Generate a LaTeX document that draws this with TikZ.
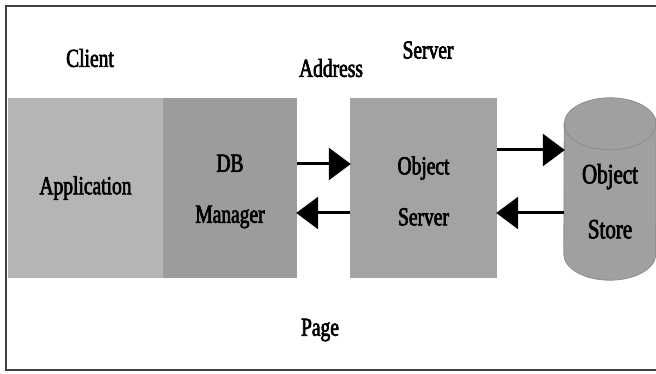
\documentclass[tikz,border=0pt]{standalone}
\usepackage{fontspec}
\usepackage{tikz}
\usetikzlibrary{positioning,arrows.meta,backgrounds}
\newfontfamily\diagfont[FakeStretch=0.75,FakeBold=2.5]{Liberation Serif}
\definecolor{appgray}{RGB}{181,181,181}
\definecolor{mgrgray}{RGB}{156,156,156}
\definecolor{srvgray}{RGB}{163,163,163}
\definecolor{storegray}{RGB}{160,160,160}

\begin{document}
\begin{tikzpicture}[
  x=1pt,y=-1pt,
  box/.style={rectangle,inner sep=0pt,minimum height=180pt,align=center,
              font=\diagfont\fontsize{26}{51}\selectfont},
  label/.style={font=\diagfont\fontsize{26}{30}\selectfont,inner sep=0pt},
  arrow/.style={-{Triangle[length=22pt,width=32pt]},line width=3pt,shorten >=-1pt}
]
\useasboundingbox (0,0) rectangle (656,374);
% frame
\draw[line width=2pt,black!75] (656,6) -- (6,6) -- (6,370) -- (656,370);

\node[box,fill=appgray,minimum width=155pt] (app) at (85.5,188) {Application};
\node[box,fill=mgrgray,minimum width=134pt] (dbm) at (230,188) {\rule{0pt}{24pt}DB\\Manager};
\node[box,fill=srvgray,minimum width=147pt] (osrv) at (423.5,188) {\rule{0pt}{24pt}Object\\Server};
\node[box,minimum width=92pt,minimum height=182pt,
      font=\diagfont\fontsize{28}{55}\selectfont] (store) at (610,189)
      {\rule{0pt}{44pt}Object\\Store};

% cylinder drawn behind the store text
\begin{scope}[on background layer]
  \path[fill=storegray,draw=black!45,line width=0.8pt]
    ([yshift=26pt]store.south west)
      arc[start angle=180,end angle=360,x radius=46pt,y radius=26pt]
      -- ([yshift=-26pt]store.north east)
      arc[start angle=0,end angle=180,x radius=46pt,y radius=26pt] -- cycle;
  \draw[black!45,line width=0.8pt] ([yshift=-26pt]store.north west)
      arc[start angle=180,end angle=360,x radius=46pt,y radius=26pt];
\end{scope}

\node[label] (client) at (90,58) {Client};
\node[label] (addr) at (331,68) {Address};
\node[label] (server) at (428,50) {Server};
\node[label] (page) at (320,330) {Page};

\draw[arrow] ([yshift=24pt]dbm.east) -- ([yshift=24pt]osrv.west);
\draw[arrow] ([yshift=-25pt]osrv.west) -- ([yshift=-25pt]dbm.east);
\draw[arrow] ([yshift=38pt]osrv.east) -- ([yshift=38pt]osrv.east -| store.west);
\draw[arrow] ([yshift=-25pt]osrv.east -| store.west) -- ([yshift=-25pt]osrv.east);
\end{tikzpicture}
\end{document}
